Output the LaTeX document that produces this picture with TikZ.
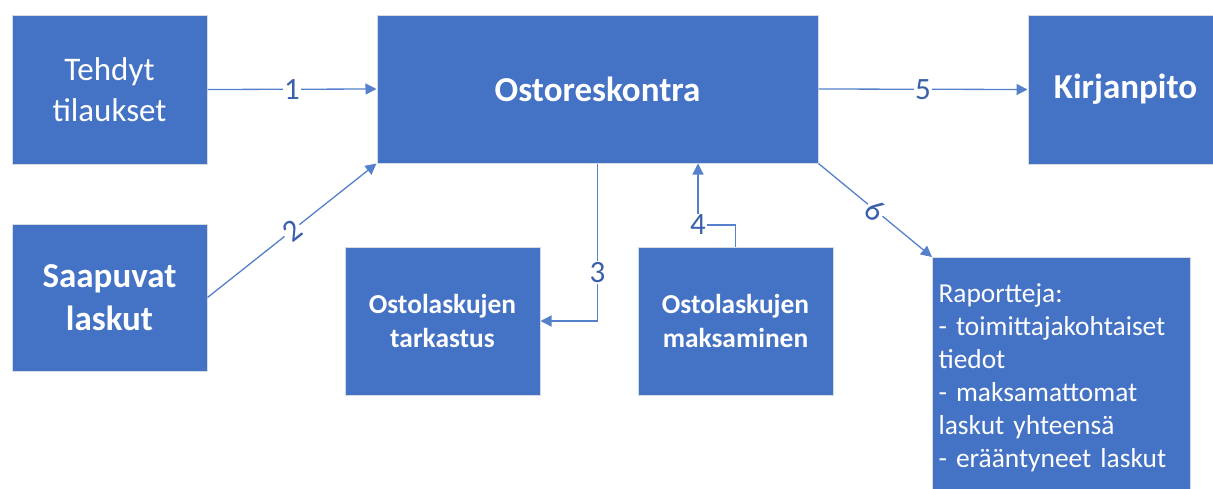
\documentclass[tikz,border=0pt]{standalone}
\usepackage{fontspec}
\setmainfont{Carlito}
\usetikzlibrary{arrows.meta}
\definecolor{boxblue}{HTML}{4472C4}
\definecolor{boxedge}{HTML}{D6DAE2}
\definecolor{lineblue}{HTML}{5580CC}
\definecolor{labelblue}{HTML}{3A60AC}
\tikzset{
  box/.style={draw=boxedge, line width=1pt, fill=boxblue, text=white, align=center, inner sep=0pt},
  conn/.style={draw=lineblue, line width=1.3pt, -{Triangle[length=11pt,width=11pt]}},
  lbl/.style={fill=white, text=labelblue, font=\fontsize{31}{36}\selectfont, inner sep=1.5pt},
}
\begin{document}
\begin{tikzpicture}[x=1pt, y=-1pt]
\useasboundingbox (0,0) rectangle (1213,488);
\fill[white] (0,0) rectangle (1213,488);
\node[box, minimum width=195pt, minimum height=149pt, font=\fontsize{33}{41}\selectfont] (a) at (109.5,89.5) {Tehdyt\\tilaukset};
\node[box, minimum width=195pt, minimum height=147pt, font=\bfseries\fontsize{35}{43}\selectfont] (b) at (109.5,297.5) {Saapuvat\\laskut};
\node[box, minimum width=441pt, minimum height=148pt, font=\bfseries\fontsize{35}{40}\selectfont] (o) at (597.5,89) {Ostoreskontra};
\node[box, minimum width=195pt, minimum height=149pt, font=\bfseries\fontsize{35}{40}\selectfont] (k) at (1125.5,89.5) {Kirjanpito};
\node[box, minimum width=195pt, minimum height=148pt, font=\bfseries\fontsize{27.4}{34}\selectfont] (t) at (442.5,321) {Ostolaskujen\\tarkastus};
\node[box, minimum width=195pt, minimum height=148pt, font=\bfseries\fontsize{27.4}{34}\selectfont] (m) at (735.5,321) {Ostolaskujen\\maksaminen};
\node[box, anchor=north west, align=left, text width=246pt, inner xsep=6pt, inner ysep=26pt, font=\fontsize{27.4}{33}\selectfont] (r) at (932,257) {Raportteja:\\- toimittajakohtaiset\\tiedot\\- maksamattomat\\laskut yhteensä\\- erääntyneet laskut};
\coordinate (c4) at (698,225);
\draw[conn] (a.east) -- node[lbl] (l1) {1} (o.west);
\draw[conn] (b.east) -- node[lbl, sloped] (l2) {2} (o.south west);
\draw[conn] (o.south) |- node[lbl, pos=0.345] (l3) {3} (t.east);
\draw[conn] (m.north) |- (c4) -- (c4 |- o.south);
\node[lbl] (l4) at (c4) {4};
\draw[conn] (o.east) -- node[lbl] (l5) {5} (k.west);
\draw[conn] (o.south east) -- node[lbl, sloped] (l6) {6} (r.north west);
\end{tikzpicture}
\end{document}
